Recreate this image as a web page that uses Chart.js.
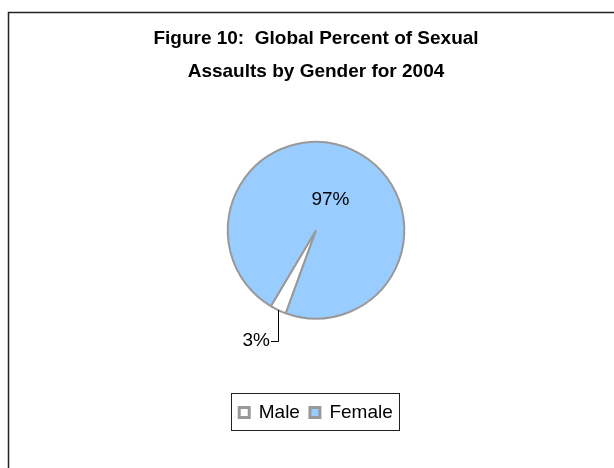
<!DOCTYPE html>
<html>
<head>
<meta charset="utf-8">
<script src="https://cdn.jsdelivr.net/npm/chart.js@4/dist/chart.umd.min.js"></script>
<style>
  html, body { margin: 0; padding: 0; background: #fff; }
  canvas { display: block; }
</style>
</head>
<body>
<canvas id="chart" width="614" height="468"></canvas>
<script>
const genders = ["Male", "Female"];
const percents = [3, 97];
const sliceColors = ["#FFFFFF", "#99CCFF"];

const FONT = "'Liberation Sans', Arial, sans-serif";

// outer frame (left + top edge only, like the source image)
const framePlugin = {
  id: "frame",
  beforeDraw(chart) {
    const ctx = chart.ctx;
    ctx.save();
    ctx.fillStyle = "#fff";
    ctx.fillRect(0, 0, chart.width, chart.height);
    ctx.strokeStyle = "#222";
    ctx.lineWidth = 1.5;
    ctx.beginPath();
    ctx.moveTo(8.5, chart.height);
    ctx.lineTo(8.5, 12.5);
    ctx.lineTo(chart.width, 12.5);
    ctx.stroke();
    ctx.restore();
  },
  afterDraw(chart) {
    // box around the legend
    const boxes = chart.legend.legendHitBoxes;
    if (!boxes || !boxes.length) return;
    const left = Math.min(...boxes.map(b => b.left)) - 8;
    const right = Math.max(...boxes.map(b => b.left + b.width)) + 6;
    const top = boxes[0].top - 10;
    const bottom = boxes[0].top + boxes[0].height + 8;
    const ctx = chart.ctx;
    ctx.save();
    ctx.strokeStyle = "#222";
    ctx.lineWidth = 1;
    ctx.strokeRect(Math.round(left) + 0.5, Math.round(top) + 0.5, Math.round(right - left), Math.round(bottom - top));
    ctx.restore();
  }
};

// percentage labels, 3% outside with a leader line
const labelPlugin = {
  id: "sliceLabels",
  afterDatasetsDraw(chart) {
    const ctx = chart.ctx;
    const arcs = chart.getDatasetMeta(0).data;
    const total = percents.reduce((a, b) => a + b, 0);
    ctx.save();
    ctx.font = "19px " + FONT;
    ctx.fillStyle = "#000";
    ctx.textBaseline = "middle";
    arcs.forEach((arc, i) => {
      const p = arc.getProps(["x", "y", "startAngle", "endAngle", "outerRadius"], true);
      const mid = (p.startAngle + p.endAngle) / 2;
      const txt = Math.round(percents[i] / total * 100) + "%";
      if (percents[i] / total > 0.1) {
        const r = p.outerRadius * 0.38;
        ctx.textAlign = "center";
        ctx.fillText(txt, p.x + Math.cos(mid) * r, p.y + Math.sin(mid) * r);
      } else {
        const ex = p.x + Math.cos(mid) * p.outerRadius;
        const ey = p.y + Math.sin(mid) * p.outerRadius;
        const ly = ey + 31;
        ctx.strokeStyle = "#000";
        ctx.lineWidth = 1;
        ctx.beginPath();
        ctx.moveTo(Math.round(ex) + 0.5, ey);
        ctx.lineTo(Math.round(ex) + 0.5, Math.round(ly) + 0.5);
        ctx.lineTo(Math.round(ex) - 7, Math.round(ly) + 0.5);
        ctx.stroke();
        ctx.textAlign = "right";
        ctx.fillText(txt, Math.round(ex) - 8, ly);
      }
    });
    ctx.restore();
  }
};

new Chart(document.getElementById("chart"), {
  type: "pie",
  data: {
    labels: genders,
    datasets: [{
      data: percents,
      backgroundColor: sliceColors,
      borderColor: "#999999",
      borderWidth: 2
    }]
  },
  options: {
    responsive: false,
    animation: false,
    rotation: 200,
    layout: { padding: { left: 18, right: 0, top: 0, bottom: 36 } },
    plugins: {
      tooltip: { enabled: false },
      title: {
        display: true,
        text: ["Figure 10:  Global Percent of Sexual", "Assaults by Gender for 2004"],
        color: "#000",
        font: { family: FONT, size: 19, weight: "bold", lineHeight: 1.763 },
        padding: { top: 22, bottom: 52 }
      },
      legend: {
        position: "bottom",
        title: { display: true, text: " ", font: { size: 12 }, padding: { top: 59, bottom: 0 } },
        labels: {
          color: "#000",
          font: { family: FONT, size: 19 },
          boxWidth: 10,
          boxHeight: 10,
          padding: 10,
          generateLabels(chart) {
            return Chart.overrides.pie.plugins.legend.labels.generateLabels(chart)
              .map(item => Object.assign(item, { lineWidth: 3 }));
          }
        }
      }
    }
  },
  plugins: [framePlugin, labelPlugin]
});
</script>
</body>
</html>
